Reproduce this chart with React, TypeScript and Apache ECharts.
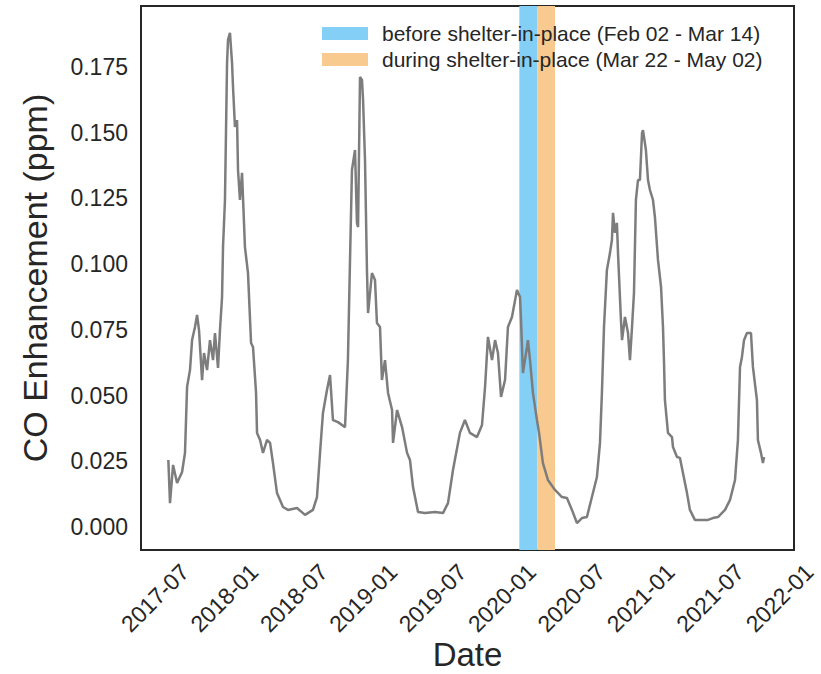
import React, { useEffect, useRef } from "react";
import * as echarts from "echarts";

// Dates as decimal years
const dateYears = [
  2017.596, 2017.608, 2017.630, 2017.659, 2017.695, 2017.716, 2017.731, 2017.752, 2017.767, 2017.788,
  2017.803, 2017.817, 2017.839, 2017.853, 2017.875, 2017.896, 2017.918, 2017.932, 2017.954, 2017.968,
  2017.983, 2017.990, 2018.004, 2018.019, 2018.026, 2018.040, 2018.055, 2018.062, 2018.076, 2018.091,
  2018.098, 2018.112, 2018.127, 2018.148, 2018.170, 2018.192, 2018.206, 2018.228, 2018.235, 2018.257,
  2018.278, 2018.307, 2018.329, 2018.350, 2018.379, 2018.422, 2018.458, 2018.523, 2018.581, 2018.638,
  2018.667, 2018.689, 2018.710, 2018.739, 2018.761, 2018.782, 2018.818, 2018.869, 2018.890, 2018.905,
  2018.919, 2018.941, 2018.955, 2018.963, 2018.977, 2018.991, 2018.999, 2019.013, 2019.027, 2019.035,
  2019.063, 2019.085, 2019.099, 2019.121, 2019.135, 2019.157, 2019.179, 2019.208, 2019.215, 2019.244,
  2019.280, 2019.316, 2019.337, 2019.359, 2019.395, 2019.445, 2019.517, 2019.575, 2019.611, 2019.647,
  2019.697, 2019.733, 2019.769, 2019.820, 2019.856, 2019.878, 2019.899, 2019.928, 2019.950, 2019.971,
  2019.993, 2020.022, 2020.043, 2020.072, 2020.108, 2020.130, 2020.137, 2020.151, 2020.180, 2020.187,
  2020.202, 2020.223, 2020.252, 2020.267, 2020.295, 2020.331, 2020.382, 2020.432, 2020.468, 2020.504,
  2020.540, 2020.576, 2020.612, 2020.648, 2020.684, 2020.706, 2020.720, 2020.735, 2020.756, 2020.778,
  2020.792, 2020.800, 2020.814, 2020.828, 2020.836, 2020.857, 2020.865, 2020.886, 2020.908, 2020.922,
  2020.937, 2020.951, 2020.965, 2020.980, 2020.994, 2021.009, 2021.016, 2021.037, 2021.052, 2021.066,
  2021.088, 2021.102, 2021.124, 2021.146, 2021.160, 2021.167, 2021.174, 2021.196, 2021.225, 2021.232,
  2021.261, 2021.282, 2021.304, 2021.333, 2021.354, 2021.390, 2021.441, 2021.484, 2021.520, 2021.556,
  2021.607, 2021.643, 2021.679, 2021.700, 2021.715, 2021.729, 2021.744, 2021.765, 2021.794, 2021.808,
  2021.837, 2021.844, 2021.866, 2021.880, 2021.888,
];

// CO enhancement (ppm)
const coValues = [
  0.0255, 0.0091, 0.0236, 0.0167, 0.0209, 0.0282, 0.0533, 0.0597, 0.0711, 0.0761,
  0.0807, 0.0749, 0.0559, 0.0662, 0.0597, 0.0711, 0.0635, 0.0738, 0.0605, 0.0749,
  0.0875, 0.1065, 0.1244, 0.1765, 0.1853, 0.1880, 0.1765, 0.1674, 0.1522, 0.1548,
  0.1358, 0.1244, 0.1347, 0.1065, 0.0966, 0.0700, 0.0685, 0.0510, 0.0358, 0.0331,
  0.0282, 0.0331, 0.0320, 0.0243, 0.0129, 0.0076, 0.0065, 0.0072, 0.0046, 0.0065,
  0.0114, 0.0282, 0.0434, 0.0521, 0.0578, 0.0407, 0.0399, 0.0380, 0.0635, 0.1016,
  0.1358, 0.1434, 0.1157, 0.1141, 0.1712, 0.1701, 0.1625, 0.1396, 0.0978, 0.0814,
  0.0966, 0.0940, 0.0776, 0.0761, 0.0559, 0.0635, 0.0510, 0.0445, 0.0320, 0.0445,
  0.0380, 0.0282, 0.0255, 0.0152, 0.0057, 0.0053, 0.0057, 0.0053, 0.0091, 0.0217,
  0.0358, 0.0407, 0.0358, 0.0342, 0.0388, 0.0533, 0.0723, 0.0635, 0.0711, 0.0662,
  0.0495, 0.0559, 0.0761, 0.0799, 0.0902, 0.0875, 0.0788, 0.0586, 0.0685, 0.0711,
  0.0635, 0.0510, 0.0407, 0.0358, 0.0243, 0.0179, 0.0141, 0.0114, 0.0110, 0.0065,
  0.0015, 0.0034, 0.0038, 0.0114, 0.0190, 0.0320, 0.0510, 0.0761, 0.0978, 0.1042,
  0.1092, 0.1195, 0.1119, 0.1157, 0.1042, 0.0788, 0.0711, 0.0799, 0.0738, 0.0635,
  0.0761, 0.0890, 0.1244, 0.1320, 0.1320, 0.1499, 0.1510, 0.1434, 0.1320, 0.1282,
  0.1244, 0.1179, 0.1016, 0.0913, 0.0761, 0.0635, 0.0483, 0.0358, 0.0342, 0.0304,
  0.0266, 0.0263, 0.0205, 0.0129, 0.0065, 0.0027, 0.0027, 0.0027, 0.0034, 0.0038,
  0.0065, 0.0103, 0.0179, 0.0331, 0.0609, 0.0647, 0.0711, 0.0738, 0.0738, 0.0609,
  0.0483, 0.0331, 0.0282, 0.0243, 0.0266,
];

// Shaded periods (decimal years)
const bandNames = [
  "before shelter-in-place (Feb 02 - Mar 14)",
  "during shelter-in-place (Mar 22 - May 02)",
];
const bandStarts = [2020.125, 2020.254];
const bandEnds = [2020.254, 2020.382];
const bandColors = ["#84CFF6", "#F8CA8F"];

const xMin = 2017.399;
const xMax = 2022.104;
const yMin = -0.00875;
const yMax = 0.1982;

const FONT = "'Liberation Sans', Arial, Helvetica, sans-serif";
const INK = "#262626";

export default function App() {
  const ref = useRef<HTMLDivElement>(null);

  useEffect(() => {
    if (!ref.current) return;
    const chart = echarts.init(ref.current, null, { renderer: "svg" });

    const lineData = dateYears.map((d, i) => [d, coValues[i]]);

    const bandSeries = bandNames.map((name, i) => ({
      name,
      type: "bar",
      data: [],
      color: bandColors[i],
      itemStyle: { color: bandColors[i] },
      z: 1,
      markArea: {
        silent: true,
        itemStyle: { color: bandColors[i], opacity: 1 },
        data: [[{ xAxis: bandStarts[i] }, { xAxis: bandEnds[i] }]],
      },
    }));

    chart.setOption({
      animation: false,
      textStyle: { fontFamily: FONT },
      grid: {
        left: 141,
        top: 6,
        width: 653,
        height: 544,
        show: true,
        borderColor: INK,
        borderWidth: 2,
        backgroundColor: "transparent",
        containLabel: false,
        outerBoundsMode: "none",
      },
      legend: {
        data: bandNames.map((n, i) => ({ name: n, icon: "rect", itemStyle: { color: bandColors[i] } })),
        orient: "vertical",
        left: 322,
        top: 23,
        padding: 0,
        itemWidth: 46,
        itemHeight: 13,
        itemGap: 5,
        selectedMode: false,
        textStyle: { fontFamily: FONT, fontSize: 21, color: INK, padding: [0, 0, 0, 9] },
      },
      xAxis: {
        type: "value",
        min: xMin,
        max: xMax,
        minInterval: 0.5,
        maxInterval: 0.5,
        name: "Date",
        nameLocation: "middle",
        nameGap: 88,
        nameMoveOverlap: false,
        nameTextStyle: { fontFamily: FONT, fontSize: 33, lineHeight: 33, color: INK },
        axisLine: { show: false },
        axisTick: { show: false },
        splitLine: { show: false },
        axisLabel: {
          rotate: 45,
          align: "center",
          verticalAlign: "middle",
          margin: 48,
          fontSize: 23,
          fontFamily: FONT,
          color: INK,
          showMinLabel: false,
          showMaxLabel: false,
          formatter: (v: number) => {
            const y = Math.floor(v + 1e-6);
            const m = v - y > 0.25 ? "07" : "01";
            return `${y}-${m}`;
          },
        },
      },
      yAxis: {
        type: "value",
        min: yMin,
        max: yMax,
        minInterval: 0.025,
        maxInterval: 0.025,
        name: "CO Enhancement (ppm)",
        nameLocation: "middle",
        nameGap: 89,
        nameMoveOverlap: false,
        nameTextStyle: { fontFamily: FONT, fontSize: 34, color: INK },
        axisLine: { show: false },
        axisTick: { show: false },
        splitLine: { show: false },
        axisLabel: {
          margin: 13,
          fontSize: 23,
          fontFamily: FONT,
          color: INK,
          showMinLabel: false,
          showMaxLabel: false,
          formatter: (v: number) => v.toFixed(3),
        },
      },
      series: [
        ...bandSeries,
        {
          name: "CO",
          type: "line",
          data: lineData,
          showSymbol: false,
          symbol: "none",
          z: 5,
          lineStyle: { color: "#7d7d7d", width: 2.5 },
          itemStyle: { color: "#7d7d7d" },
        },
      ],
    });

    return () => chart.dispose();
  }, []);

  return (
    <div
      ref={ref}
      style={{ position: "fixed", left: 0, top: 0, width: 821, height: 674, background: "#fff" }}
    />
  );
}
